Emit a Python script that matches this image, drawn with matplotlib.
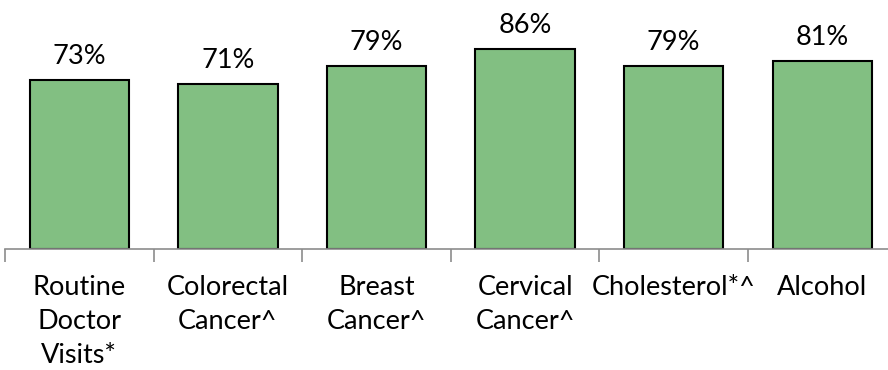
import numpy as np
import matplotlib
matplotlib.use("Agg")
import matplotlib.pyplot as plt

# categories and shares
categories = ["Routine\nDoctor\nVisits*", "Colorectal\nCancer^", "Breast\nCancer^",
              "Cervical\nCancer^", "Cholesterol*^", "Alcohol"]
values = [0.73, 0.71, 0.79, 0.86, 0.79, 0.81]
labels = ["73%", "71%", "79%", "86%", "79%", "81%"]

plt.rcParams['font.family'] = ['Lato', 'DejaVu Sans']

W, H = 888, 370
fig = plt.figure(figsize=(W / 100, H / 100), dpi=100)
# axes runs a little past the right edge, like the original
ax = fig.add_axes([5 / W, (H - 249) / H, 6 * 148.6 / W, 232 / H])

x = np.arange(len(values))
ax.bar(x, values, width=0.67, color="#82BF82", edgecolor="black", linewidth=1.5, zorder=2)

for xi, v, lab in zip(x, values, labels):
    ax.annotate(lab, (xi, v), xytext=(0, 8), textcoords="offset points",
                ha="center", va="bottom", fontsize=19.5, color="black")

ax.set_xlim(-0.5, len(values) - 0.5)
ax.set_ylim(0, 1.0)

for s in ["top", "right", "left"]:
    ax.spines[s].set_visible(False)
ax.spines["bottom"].set_color("#8c8c8c")
ax.spines["bottom"].set_linewidth(1.2)
ax.set_yticks([])

# ticks between categories, labels at the centres
ax.set_xticks(np.arange(-0.5, len(values) + 0.5, 1.0))
ax.set_xticklabels([])
ax.tick_params(axis="x", which="major", length=9, width=1.2, color="#8c8c8c", direction="out")
ax.set_xticks(x, minor=True)
ax.set_xticklabels(categories, minor=True, fontsize=19.5, linespacing=1.45)
ax.tick_params(axis="x", which="minor", length=0, pad=19)

fig.savefig("out.png", dpi=100)
